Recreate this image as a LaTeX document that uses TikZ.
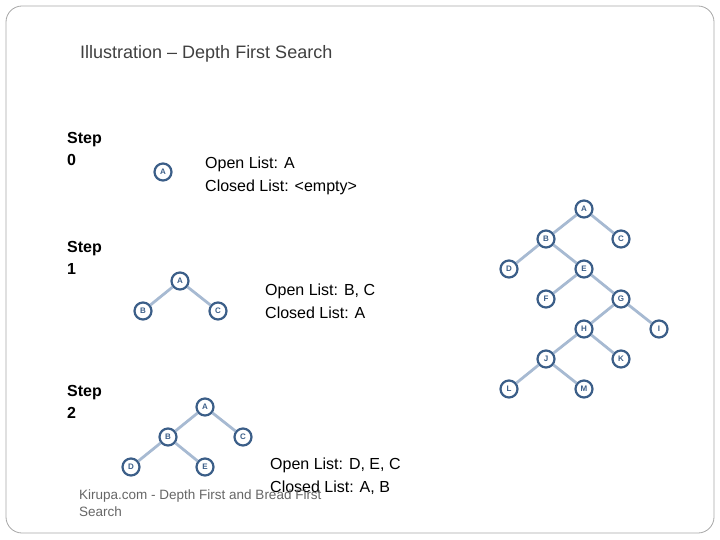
\documentclass[tikz,border=0pt]{standalone}
\usepackage{fontspec}
\setmainfont{Liberation Sans}
\begin{document}
\begin{tikzpicture}[x=1pt,y=-1pt,
  n/.style={circle,draw=nodeb,line width=2.2pt,fill=white,minimum size=17pt,inner sep=0pt,font=\fontsize{8}{8}\selectfont\bfseries,text=nodeb},
  e/.style={draw=edgeb,line width=2.8pt},
  lbl/.style={anchor=north west,align=left,font=\fontsize{16}{23}\selectfont,inner sep=0pt},
  stp/.style={anchor=north west,align=left,font=\fontsize{16}{22}\selectfont\bfseries,inner sep=0pt}]
\definecolor{nodeb}{HTML}{3B5E88}
\definecolor{edgeb}{HTML}{A7BAD2}
\useasboundingbox (0,0) rectangle (720,540);
\draw[gray!70,line width=0.8pt,rounded corners=16pt] (6,6) rectangle (714,533);
\node[anchor=west,font=\fontsize{18}{20}\selectfont,text=black!75,inner sep=0pt] (title) at (80,54) {Illustration -- Depth First Search};
\node[stp] (s0) at (67,132) {Step\\0};
\node[stp] (s1) at (67,241) {Step\\1};
\node[stp] (s2) at (67,385) {Step\\2};
\node[lbl] (o0) at (205,157) {Open List: A\\Closed List: <empty>};
\node[lbl] (o1) at (265,284) {Open List: B, C\\Closed List: A};
\node[lbl] (o2) at (270,458) {Open List: D, E, C\\Closed List: A, B};
\node[anchor=north west,align=left,font=\fontsize{13.5}{17}\selectfont,text=black!60,inner sep=0pt] (foot) at (79,490) {Kirupa.com - Depth First and Bread First\\Search};
% step 0
\node[n] (a0) at (163,172) {A};
% step 1
\node[n] (a1) at (180,281) {A};
\node[n] (b1) at (143,311) {B};
\node[n] (c1) at (218,311) {C};
\draw[e] (a1)--(b1) (a1)--(c1);
% step 2
\node[n] (a2) at (205,407) {A};
\node[n] (b2) at (168,437) {B};
\node[n] (c2) at (243,437) {C};
\node[n] (d2) at (131,467) {D};
\node[n] (e2) at (205,467) {E};
\draw[e] (a2)--(b2) (a2)--(c2) (b2)--(d2) (b2)--(e2);
% big tree
\node[n] (A) at (584,209) {A};
\node[n] (B) at (546,239) {B};
\node[n] (C) at (621,239) {C};
\node[n] (D) at (509,269) {D};
\node[n] (E) at (584,269) {E};
\node[n] (F) at (546,299) {F};
\node[n] (G) at (621,299) {G};
\node[n] (H) at (584,329) {H};
\node[n] (I) at (659,329) {I};
\node[n] (J) at (546,359) {J};
\node[n] (K) at (621,359) {K};
\node[n] (L) at (509,389) {L};
\node[n] (M) at (584,389) {M};
\draw[e] (A)--(B) (A)--(C) (B)--(D) (B)--(E) (E)--(F) (E)--(G) (G)--(H) (G)--(I) (H)--(J) (H)--(K) (J)--(L) (J)--(M);
\end{tikzpicture}
\end{document}
